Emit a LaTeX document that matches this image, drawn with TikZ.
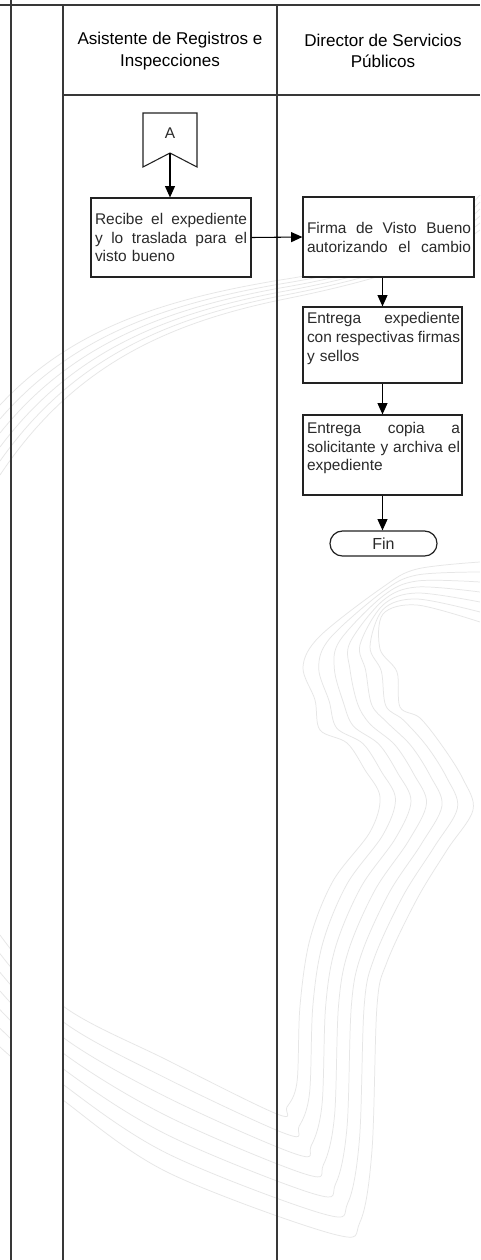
\documentclass[tikz,border=0pt]{standalone}
\usepackage{fontspec}
\setmainfont{Liberation Sans}
\usetikzlibrary{arrows.meta}
\definecolor{laneline}{HTML}{383838}
\definecolor{boxline}{HTML}{222222}
\definecolor{textgray}{HTML}{2A2A2A}
\definecolor{wmgray}{HTML}{E6E6E6}
% one fully justified line inside a text block (words separated by \hfill)
\newcommand{\jl}[1]{\noindent\hbox to \hsize{#1}\\}
\newcommand{\jlast}[1]{\noindent\hbox to \hsize{#1}}
\begin{document}
\begin{tikzpicture}[x=0.75pt,y=-0.75pt,
  lane/.style={draw=laneline, line width=1.5pt},
  proc/.style={draw=boxline, line width=0.9pt, fill=white, inner sep=0pt},
  txt/.style={text width=#1, inner sep=0pt, align=left, text=textgray,
    font=\fontsize{11.6pt}{13.9pt}\selectfont},
  hdr/.style={align=center, inner sep=0pt, font=\fontsize{12.8pt}{16pt}\selectfont},
  flow/.style={draw=black, line width=0.8pt, -{Triangle[width=7.5pt,length=8.5pt]}},
  wm/.style={draw=wmgray, line width=0.55pt}
]
\useasboundingbox (0,0) rectangle (480,1260);
\fill[white] (0,0) rectangle (480,1260);

% faint background watermark strokes
\begin{scope}[wm]
\foreach \k in {0,...,5}{
  \draw (0,{405+14*\k}) .. controls (70,{330+8*\k}) and (160,{300+5*\k}) .. (280,{280+4*\k})
        .. controls (380,{265+3*\k}) and (440,{240+4*\k}) .. (480,{195+7*\k});
}
\begin{scope}
\clip (0,0) rectangle (11,1260) (63,0) rectangle (480,1260);
\foreach \t in {0,0.1667,0.3333,0.5,0.6667,0.8333,1}{
  \draw plot[smooth, tension=0.55] coordinates {
    (480,{562+60*\t}) (417,{569+36*\t}) (383,{587+27*\t})
    ({320+60*\t},{636+13*\t}) ({303+94*\t},{667+5*\t}) ({315+85*\t},{700+7*\t})
    ({320+100*\t},{730-12*\t}) ({347+96*\t},{743+4*\t}) ({365+98*\t},{770+9*\t})
    ({380+93*\t},{797+13*\t}) ({370+77*\t},{832+18*\t}) ({333+84*\t},{881+18*\t})
    ({310+77*\t},{939+23*\t}) ({300+77*\t},1006) ({297+75*\t},{1082+68*\t})
    ({287+73*\t},{1107+115*\t}) ({277+56*\t},{1114+120*\t}) (167,{1060+112*\t})
    (63,{1006+94*\t}) (0,{935+112*\t})};
}
\end{scope}
\end{scope}

% swimlane frame
\draw[lane] (0,4.5) -- (480,4.5);
\draw[lane] (11,0) -- (11,1260);
\draw[lane] (63,4.5) -- (63,1260);
\draw[lane] (277,4.5) -- (277,1260);
\draw[lane] (63,95) -- (480,95);

% lane headers
\node[hdr] (h1) at (170,51) {Asistente de Registros e\\Inspecciones};
\node[hdr] (h2) at (383,51) {Director de Servicios\\Públicos};

% off-page connector A
\draw[boxline, line width=0.8pt, fill=white]
  (143,113) -- (197,113) -- (197,167) -- (170,153) -- (143,167) -- cycle;
\node[inner sep=0pt, text=textgray, font=\fontsize{11.6pt}{13.9pt}\selectfont] (A) at (170,133) {A};
\coordinate (Anotch) at (170,153);

% process boxes
\node[proc, minimum width=120pt, minimum height=59.25pt] (b1) at (171,237.5) {};
\node[proc, minimum width=128.25pt, minimum height=60pt] (b2) at (388.5,237) {};
\node[proc, minimum width=119.25pt, minimum height=57pt] (b3) at (382.5,345) {};
\node[proc, minimum width=119.25pt, minimum height=60pt] (b4) at (382.5,455) {};
\node[proc, minimum width=80.25pt, minimum height=18.75pt, rounded corners=9.3pt,
  font=\fontsize{12pt}{14pt}\selectfont, text=textgray] (fin) at (383.5,543.5) {Fin};

% box texts
\node[txt=114pt] (t1) at (171,237.5)
  {\jl{Recibe\hfill el\hfill expediente}\jl{y\hfill lo\hfill traslada\hfill para\hfill el}visto bueno};
\node[txt=123pt] (t2) at (389,237.5)
  {\jl{Firma\hfill de\hfill Visto\hfill Bueno}\jlast{autorizando\hfill el\hfill cambio}};
\node[txt=114.75pt] (t3) at (383.5,338.5)
  {\jl{Entrega\hfill expediente}\jl{con\hfill respectivas\hfill firmas}y sellos};
\node[txt=114.75pt] (t4) at (383.5,448)
  {\jl{Entrega\hfill copia\hfill a}\jl{solicitante\hfill y\hfill archiva\hfill el}expediente};

% connectors
\draw[flow] (Anotch) -- (Anotch |- b1.north);
\draw[flow] (b1.east) -- (b2.west);
\draw[flow] (b3.north |- b2.south) -- (b3.north);
\draw[flow] (b3.south) -- (b4.north);
\draw[flow] (b4.south) -- (b4.south |- fin.north);
\end{tikzpicture}
\end{document}
